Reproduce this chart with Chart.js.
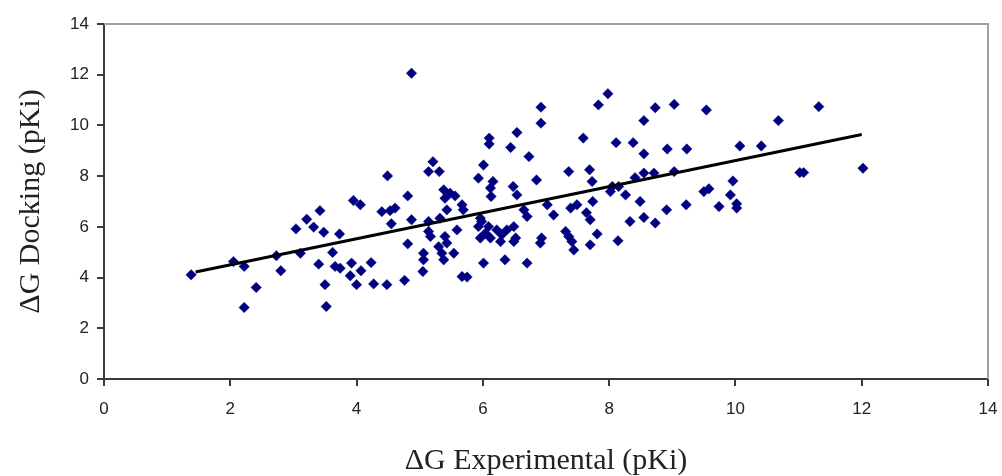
<!DOCTYPE html>
<html>
<head>
<meta charset="utf-8">
<script src="https://cdn.jsdelivr.net/npm/chart.js@4.4.0/dist/chart.umd.min.js"></script>
<style>
  html, body { margin: 0; padding: 0; background: #ffffff; }
  #wrap { width: 1002px; height: 476px; }
</style>
</head>
<body>
<div id="wrap"><canvas id="c" width="1002" height="476"></canvas></div>
<script>
// Experimental pKi (x) and docking pKi (y) for each compound
const expX = [
  1.38, 2.05, 2.22, 2.22, 2.41, 2.73, 2.80, 3.04, 3.11, 3.21,
  3.32, 3.42, 3.48, 3.40, 3.50, 3.52, 3.62, 3.73, 3.66, 3.74,
  3.92, 3.90, 4.00, 4.07, 4.23, 4.27, 4.48, 4.76, 3.95, 4.06,
  4.49, 4.40, 4.53, 4.61, 4.55, 4.81, 4.87, 4.81, 4.87,
  6.92, 6.92, 7.83, 7.98, 6.54, 6.10, 6.10, 6.44, 6.73, 7.59,
  5.21, 5.14, 5.31, 6.01, 5.93, 6.16, 6.12, 6.13, 6.85, 7.36,
  7.69, 7.73, 5.38, 5.48, 5.56, 5.40, 5.67, 5.69, 5.43, 6.48,
  6.54, 6.65, 6.70, 7.02, 7.12, 7.39, 7.49, 7.74, 7.64, 7.70,
  5.14, 5.32, 5.14, 5.17, 5.40, 5.43, 5.59, 5.96, 5.98, 5.93,
  6.09, 6.04, 5.96, 6.22, 6.30, 6.12, 6.38, 6.49, 6.52, 6.28,
  6.49, 6.93, 6.91, 7.31, 7.36, 7.41, 7.44, 7.70, 7.81, 5.06,
  5.06, 5.30, 5.35, 5.54, 5.38, 5.05, 5.67, 5.75, 6.01, 6.35,
  6.70,
  8.73, 9.03, 9.54, 10.68, 8.55, 8.11, 8.38, 8.55, 8.92, 9.23,
  10.07, 10.41, 11.02, 11.08, 8.41, 8.55, 8.71, 9.03, 8.05, 8.15,
  8.02, 8.26, 8.49, 8.33, 8.55, 8.73, 8.91, 9.22, 9.50, 9.58,
  9.96, 9.92, 9.74, 10.02, 10.02, 8.14, 11.32, 12.02
];
const dockY = [
  4.11, 4.63, 4.44, 2.82, 3.61, 4.86, 4.27, 5.92, 4.96, 6.30,
  5.99, 6.64, 5.79, 4.53, 3.72, 2.86, 4.99, 5.72, 4.44, 4.37,
  4.57, 4.07, 3.72, 4.27, 4.59, 3.75, 3.72, 3.89, 7.04, 6.87,
  8.01, 6.60, 6.64, 6.74, 6.12, 7.22, 6.28, 5.33, 12.06,
  10.72, 10.09, 10.81, 11.25, 9.72, 9.50, 9.27, 9.13, 8.77, 9.50,
  8.57, 8.18, 8.18, 8.44, 7.92, 7.79, 7.53, 7.20, 7.85, 8.18,
  8.25, 7.79, 7.46, 7.33, 7.22, 7.13, 6.87, 6.67, 6.67, 7.59,
  7.26, 6.67, 6.41, 6.87, 6.47, 6.74, 6.87, 7.00, 6.56, 6.28,
  6.21, 6.34, 5.82, 5.62, 5.62, 5.36, 5.88, 6.34, 6.21, 6.01,
  6.01, 5.75, 5.56, 5.88, 5.69, 5.56, 5.88, 6.01, 5.56, 5.42,
  5.42, 5.56, 5.36, 5.82, 5.62, 5.42, 5.09, 5.29, 5.72, 4.96,
  4.70, 5.22, 4.96, 4.96, 4.70, 4.24, 4.04, 4.02, 4.57, 4.70,
  4.57,
  10.70, 10.83, 10.61, 10.19, 10.19, 9.32, 9.32, 8.88, 9.07, 9.07,
  9.19, 9.19, 8.14, 8.14, 7.94, 8.12, 8.12, 8.18, 7.59, 7.59,
  7.39, 7.26, 7.00, 6.21, 6.37, 6.15, 6.67, 6.87, 7.39, 7.50,
  7.81, 7.26, 6.80, 6.91, 6.74, 5.45, 10.74, 8.31
];
// Linear trend line end points
const trendX = [1.45, 12.0];
const trendY = [4.22, 9.64];
// Axis ticks
const tickValues = [0, 2, 4, 6, 8, 10, 12, 14];

const points = expX.map((x, i) => ({ x: x, y: dockY[i] }));
const trend = trendX.map((x, i) => ({ x: x, y: trendY[i] }));

const frame = {
  id: 'frame',
  afterDatasetsDraw(chart) {
    const { ctx, chartArea: a } = chart;
    ctx.save();
    ctx.strokeStyle = '#a0a0a0';
    ctx.lineWidth = 2;
    ctx.beginPath();
    ctx.moveTo(a.left, a.top);
    ctx.lineTo(a.right, a.top);
    ctx.lineTo(a.right, a.bottom);
    ctx.stroke();
    ctx.restore();
  }
};

const tickFont = { family: '"Liberation Sans", Arial, sans-serif', size: 17 };
const titleFont = { family: '"Liberation Serif", "Times New Roman", serif', size: 30 };

new Chart(document.getElementById('c'), {
  type: 'scatter',
  data: {
    datasets: [
      {
        type: 'line',
        data: trend,
        borderColor: '#000000',
        borderWidth: 3,
        pointRadius: 0,
        fill: false,
        order: 0
      },
      {
        data: points,
        pointStyle: 'rectRot',
        pointRadius: 5.2,
        pointBackgroundColor: '#000080',
        pointBorderColor: '#000080',
        pointBorderWidth: 0.5,
        order: 1
      }
    ]
  },
  options: {
    responsive: false,
    animation: false,
    events: [],
    layout: { padding: { top: 24, right: 14, left: 0, bottom: 0 } },
    plugins: { legend: { display: false }, tooltip: { enabled: false } },
    scales: {
      x: {
        type: 'linear',
        min: 0, max: 14,
        afterBuildTicks: (s) => { s.ticks = tickValues.map(v => ({ value: v })); },
        afterFit: (s) => { s.height = 97; s.paddingRight = 0; s.paddingLeft = 0; },
        ticks: { color: '#222', font: tickFont, padding: 13, maxRotation: 0 },
        grid: { drawOnChartArea: false, drawTicks: true, tickLength: 7, color: '#3a3a3a', lineWidth: 2 },
        border: { display: true, color: '#3a3a3a', width: 2 },
        title: { display: true, text: 'ΔG Experimental (pKi)', color: '#222', font: titleFont, padding: { top: 0, bottom: -3 } }
      },
      y: {
        type: 'linear',
        min: 0, max: 14,
        afterBuildTicks: (s) => { s.ticks = tickValues.map(v => ({ value: v })); },
        afterFit: (s) => { s.width = 104; },
        ticks: { color: '#222', font: tickFont, padding: 8 },
        grid: { drawOnChartArea: false, drawTicks: true, tickLength: 7, color: '#3a3a3a', lineWidth: 2 },
        border: { display: true, color: '#3a3a3a', width: 2 },
        title: { display: true, text: 'ΔG Docking (pKi)', color: '#222', font: titleFont, padding: { top: 13, bottom: 0 } }
      }
    }
  },
  plugins: [frame]
});
</script>
</body>
</html>
